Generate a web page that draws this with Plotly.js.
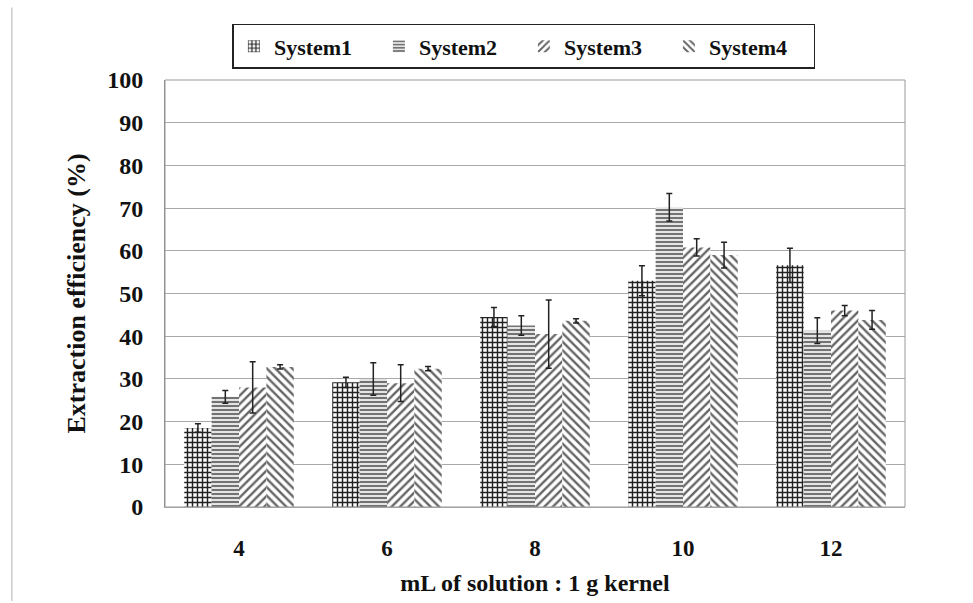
<!DOCTYPE html>
<html><head><meta charset="utf-8">
<script src="https://cdn.plot.ly/plotly-3.0.1.min.js"></script>
<style>html,body{margin:0;padding:0;background:#fff}#c{width:973px;height:603px}</style>
</head><body><div id="c"></div>
<script>
const categories = ["4", "6", "8", "10", "12"];
const seriesNames = ["System1", "System2", "System3", "System4"];
const yTicks = [0, 10, 20, 30, 40, 50, 60, 70, 80, 90, 100];
const system1 = [18.5, 29.2, 44.5, 53.0, 56.6];
const system2 = [25.8, 30.0, 42.5, 70.2, 41.3];
const system3 = [28.0, 29.0, 40.5, 60.8, 46.0];
const system4 = [32.8, 32.4, 43.6, 59.0, 43.8];
const err1 = [1.0, 1.2, 2.2, 3.5, 4.0];
const err2 = [1.5, 3.8, 2.3, 3.2, 3.0];
const err3 = [6.0, 4.3, 8.0, 2.0, 1.2];
const err4 = [0.5, 0.5, 0.5, 3.0, 2.2];

const values = [system1, system2, system3, system4];
const errs = [err1, err2, err3, err4];
const patterns = [
  {shape: "+", fgcolor: "#222", bgcolor: "#fff", size: 5, solidity: 0.5},
  {shape: "-", fgcolor: "#666", bgcolor: "#e4e4e4", size: 4, solidity: 0.45},
  {shape: "/", fgcolor: "#666", bgcolor: "#fff", size: 6, solidity: 0.4},
  {shape: "\\", fgcolor: "#666", bgcolor: "#fff", size: 6, solidity: 0.4}
];
const traces = seriesNames.map((n, i) => ({
  type: "bar", name: "<b>" + n + "</b>", x: categories, y: values[i],
  marker: {color: "#fff", pattern: patterns[i], line: {width: 0}},
  error_y: {type: "data", array: errs[i], visible: true, color: "#222", thickness: 1.5, width: 3}
}));
const fam = "'Liberation Serif', serif";
const layout = {
  width: 973, height: 603,
  margin: {l: 165, r: 68, t: 80, b: 96},
  paper_bgcolor: "#fff", plot_bgcolor: "#fff",
  barmode: "group", bargap: 0.26, bargroupgap: 0,
  font: {family: fam, color: "#111"},
  showlegend: true,
  legend: {orientation: "h", x: 0.485, xanchor: "center", y: 1.026, yanchor: "bottom",
    bordercolor: "#222", borderwidth: 1.5, bgcolor: "#fff",
    font: {family: fam, size: 22, color: "#111"}, entrywidth: 100, itemwidth: 30},
  xaxis: {type: "category", showgrid: false, zeroline: false, showline: true, linecolor: "#aaa",
    ticks: "", tickfont: {family: fam, size: 23, color: "#111"}, ticklabelstandoff: 20,
    tickvals: categories, ticktext: categories.map(c => "<b>" + c + "</b>"),
    title: {text: "<b>mL of solution : 1 g kernel</b>", font: {family: fam, size: 24}, standoff: 14}},
  yaxis: {range: [0, 100], dtick: 10, showgrid: true, gridcolor: "#aaa", gridwidth: 1.2,
    showline: true, linecolor: "#888", zeroline: false, ticks: "",
    tickfont: {family: fam, size: 24, color: "#111"}, ticklabelstandoff: 16,
    tickvals: yTicks, ticktext: yTicks.map(v => "<b>" + v + "</b>"),
    title: {text: "<b>Extraction efficiency (%)</b>", font: {family: fam, size: 26}, standoff: 14}},
  shapes: [
    {type: "rect", xref: "paper", yref: "paper", x0: 0, x1: 1, y0: 1, y1: 0, line: {color: "#999", width: 1}},
    {type: "line", xref: "paper", yref: "paper", x0: -0.207, x1: -0.207, y0: -0.22, y1: 1.17, line: {color: "#ccc", width: 1.5}}
  ]
};
Plotly.newPlot("c", traces, layout, {displayModeBar: false});
</script></body></html>
